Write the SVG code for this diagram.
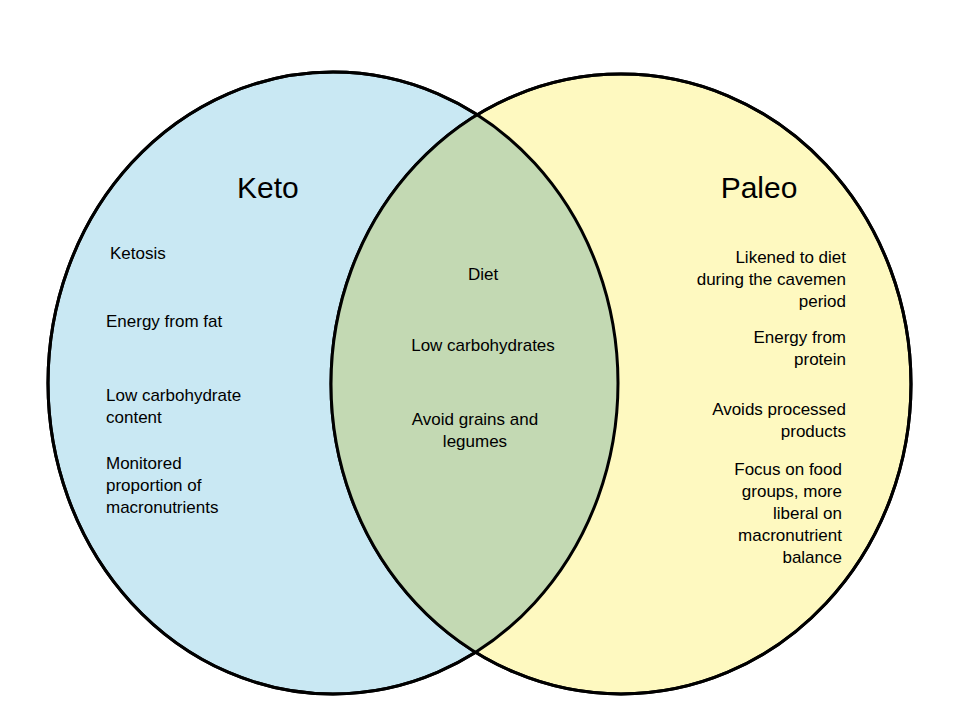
<svg xmlns="http://www.w3.org/2000/svg" width="960" height="720" viewBox="0 0 960 720">
<style>
.t{font-family:"Liberation Sans",Arial,sans-serif;font-size:17px;fill:#000}
.h{font-family:"Liberation Sans",Arial,sans-serif;font-size:30px;fill:#000}
.c{stroke:#000;stroke-width:3}
</style>
<defs><clipPath id="cl"><ellipse cx="333" cy="383" rx="285" ry="311"/></clipPath></defs>
<rect width="960" height="720" fill="#fff"/>
<g id="keto"><ellipse class="c" cx="333" cy="383" rx="285" ry="311" fill="#c9e8f3"/></g>
<g id="paleo"><ellipse class="c" cx="621" cy="384" rx="290" ry="310" fill="#fef9c0"/></g>
<g id="overlap"><ellipse cx="621" cy="384" rx="290" ry="310" fill="#c3d9b3" clip-path="url(#cl)"/>
<ellipse cx="333" cy="383" rx="285" ry="311" fill="none" stroke="#000" stroke-width="3"/>
<ellipse cx="621" cy="384" rx="290" ry="310" fill="none" stroke="#000" stroke-width="3"/></g>
<g id="keto-text">
<text class="h" x="237" y="198">Keto</text>
<text class="t" x="110" y="259">Ketosis</text>
<text class="t" x="106" y="327">Energy from fat</text>
<text class="t" x="106" y="401">Low carbohydrate</text>
<text class="t" x="106" y="423">content</text>
<text class="t" x="106" y="469">Monitored</text>
<text class="t" x="106" y="491">proportion of</text>
<text class="t" x="106" y="513">macronutrients</text>
</g>
<g id="common-text" text-anchor="middle">
<text class="t" x="483" y="280">Diet</text>
<text class="t" x="483" y="351">Low carbohydrates</text>
<text class="t" x="475" y="425">Avoid grains and</text>
<text class="t" x="475" y="447">legumes</text>
</g>
<g id="paleo-text" text-anchor="end">
<text class="h" x="759" y="198" text-anchor="middle">Paleo</text>
<text class="t" x="846" y="263">Likened to diet</text>
<text class="t" x="846" y="285">during the cavemen</text>
<text class="t" x="846" y="307">period</text>
<text class="t" x="846" y="343">Energy from</text>
<text class="t" x="846" y="365">protein</text>
<text class="t" x="846" y="415">Avoids processed</text>
<text class="t" x="846" y="437">products</text>
<text class="t" x="842" y="475">Focus on food</text>
<text class="t" x="842" y="497">groups, more</text>
<text class="t" x="842" y="519">liberal on</text>
<text class="t" x="842" y="541">macronutrient</text>
<text class="t" x="842" y="563">balance</text>
</g>
</svg>
